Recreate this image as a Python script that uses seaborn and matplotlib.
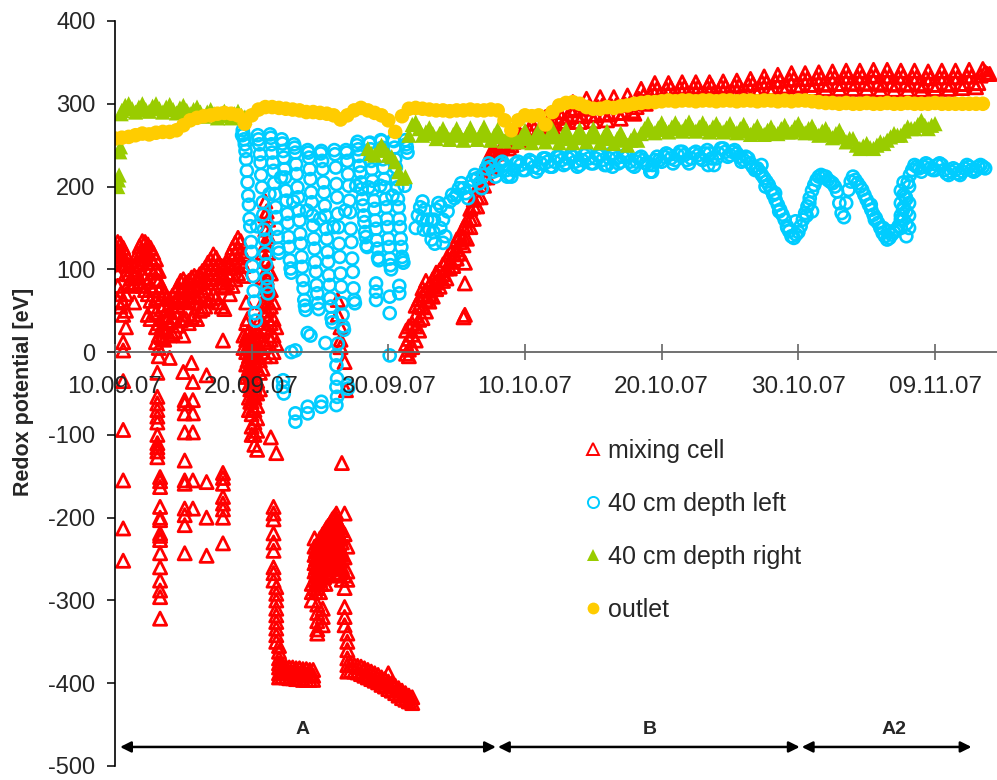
import numpy as np
import pandas as pd
import matplotlib
matplotlib.use("Agg")
import matplotlib.pyplot as plt
from matplotlib.lines import Line2D
import seaborn as sns

# ---------------- data (x = days since 10.09.07) ----------------
tick_days = [0, 10, 20, 30, 40, 50, 60]
tick_labels = ["10.09.07", "20.09.07", "30.09.07", "10.10.07",
               "20.10.07", "30.10.07", "09.11.07"]
y_ticks = [400, 300, 200, 100, 0, -100, -200, -300, -400, -500]

series_names = ["mixing cell", "40 cm depth left", "40 cm depth right", "outlet"]
series_colors = ["#FF0000", "#00CCFF", "#99CC00", "#FFCC00"]

phase_names = ["A", "B", "A2"]
phase_start = [0.37, 28.02, 50.25]
phase_end = [27.87, 50.10, 62.67]
phase_label_day = [13.7, 39.1, 57.0]

# mixing cell, days 0-9.4: upper band, three readings every 0.2 day
mixing_band_start = 0.0
mixing_band_top = [128, 133, 131, 126, 118, 105, 100, 104, 118, 128, 134, 133,
                   130, 126, 120, 112, 98, 80, 70, 66, 64, 68, 72, 80,
                   86, 88, 84, 86, 90, 92, 90, 94, 98, 102, 108, 112,
                   118, 114, 108, 104, 102, 108, 118, 126, 132, 138, 134, 118]
mixing_band_mid = [120, 124, 122, 116, 106, 94, 89, 92, 106, 117, 123, 122,
                   119, 114, 108, 100, 86, 66, 57, 52, 50, 55, 60, 68,
                   74, 76, 72, 74, 78, 80, 78, 82, 86, 90, 96, 100,
                   106, 102, 96, 92, 90, 96, 106, 114, 120, 126, 122, 104]
mixing_band_low = [112, 115, 112, 106, 95, 84, 80, 82, 96, 106, 112, 112,
                   108, 102, 96, 88, 74, 52, 44, 38, 36, 42, 48, 56,
                   62, 64, 60, 62, 66, 68, 66, 70, 74, 78, 84, 88,
                   94, 90, 84, 80, 78, 84, 94, 102, 108, 114, 110, 92]

# mixing cell, phase A scatter: (day, readings of that time slot)
mixing_A = [
    (0.2, [95, 80, 62]),
    (0.4, [70, 55]),
    (0.6, [60, 45, 12, 2, -35, -94, -155, -213, -252]),
    (0.8, [70, 50, 30]),
    (1.4, [60]),
    (1.8, [85]),
    (2.0, [95, 80]),
    (2.2, [90, 75]),
    (2.4, [85, 70, 45]),
    (2.6, [80, 62, 40]),
    (2.8, [75, 55]),
    (3.0, [65, 48, 30, 12]),
    (3.1, [-25, -54, -62, -70, -78, -85, -100, -110, -115, -120, -127]),
    (3.2, [35, 20, 5, -5]),
    (3.3, [-151, -156, -163, -187, -200, -203, -219, -222, -227, -243, -260, -276, -288, -296, -322]),
    (3.4, [30, 18]),
    (3.6, [28, 15]),
    (3.8, [25]),
    (4.0, [20, -7]),
    (4.2, [22]),
    (4.4, [25]),
    (4.6, [32]),
    (4.8, [38]),
    (5.0, [40, 20, -24]),
    (5.1, [-58, -62, -74, -97, -131, -155, -159, -189, -197, -209, -243]),
    (5.2, [40]),
    (5.4, [35]),
    (5.6, [42, -13]),
    (5.7, [-36, -58, -74, -97, -155, -189]),
    (5.8, [45]),
    (6.0, [40]),
    (6.2, [50]),
    (6.4, [52]),
    (6.6, [55]),
    (6.7, [-28, -157, -200, -246]),
    (6.8, [62]),
    (7.0, [65]),
    (7.2, [70]),
    (7.4, [66]),
    (7.6, [60]),
    (7.8, [55]),
    (7.9, [14, -146, -152, -159, -175, -183, -190, -200, -231]),
    (8.0, [52]),
    (8.4, [70]),
    (8.6, [80]),
    (8.8, [88]),
    (9.0, [95]),
    (9.4, [20, 5]),
    (9.6, [60, 35, 15, 0, -15, -30]),
    (9.7, [40, 22, 5, -10, -25]),
    (9.8, [25, 10, -5, -20, -40, -55, -70]),
    (9.9, [18, 2, -12, -28, -45, -60]),
    (10.0, [15, 0, -15, -30, -45, -60, -75, -90, -100]),
    (10.1, [12, -4, -20, -36, -52, -68]),
    (10.2, [20, 5, -10, -25, -40, -55, -70, -85, -100, -112]),
    (10.3, [16, 0, -16, -32, -48]),
    (10.4, [25, 10, -5, -20, -35, -50, -65, -80, -95, -118]),
    (10.6, [40, 20, 5, -10, -25, -45]),
    (10.8, [120, 90, 60, 35, 15, 0, -20]),
    (11.0, [182, 165, 148, 130, 112, 95, 78, 60, 45, 28, 12, -5]),
    (11.1, [170, 150, 130, 110, 90, 70, 50, 30]),
    (11.2, [160, 140, 120, 100, 80, 60, 40, 20]),
    (11.4, [95, 75, 55, 35, 15, -5, -103]),
    (11.6, [60, 40, 20, 0, -187, -195, -202, -219, -230, -240, -260, -267, -276]),
    (11.8, [30, 10, -122, -284, -292, -300, -310, -318, -326, -334, -342, -350]),
    (12.0, [-355, -362, -370, -376, -381, -388, -393]),
    (12.25, [-379, -386, -392]),
    (12.5, [-380, -387, -393]),
    (12.75, [-381, -388, -394]),
    (13.0, [-381, -388, -394]),
    (13.25, [-382, -389, -395]),
    (13.5, [-382, -389, -395]),
    (13.75, [-383, -390, -396]),
    (14.0, [-383, -390, -396]),
    (14.25, [-384, -390, -396]),
    (14.4, [-280, -290, -300]),
    (14.5, [-384, -391, -396]),
    (14.6, [-225, -235, -245, -255, -265, -275, -285]),
    (14.7, [-240, -250, -260, -270, -280, -290]),
    (14.8, [-235, -245, -255, -265, -275, -285, -305, -315, -325, -335, -340]),
    (14.9, [-230, -240, -250, -260, -270, -280]),
    (15.0, [-225, -235, -245, -255, -265, -275, -290]),
    (15.1, [-225, -235, -245, -255, -268, -280]),
    (15.2, [-220, -230, -240, -250, -260, -272, -310, -320, -330]),
    (15.3, [-218, -228, -238, -248, -260, -272]),
    (15.4, [-215, -225, -235, -245, -255, -268, -280]),
    (15.5, [-212, -222, -232, -242, -254, -266]),
    (15.6, [-210, -220, -230, -240, -250, -262, -270]),
    (15.7, [-208, -218, -228, -238, -250, -262]),
    (15.8, [-205, -215, -225, -235, -245, -255]),
    (15.9, [-202, -212, -222, -232, -244, -256]),
    (16.0, [-200, -210, -220, -230, -240, -250, -260]),
    (16.1, [-198, -208, -218, -228, -240, -252]),
    (16.2, [-195, -205, -215, -225, -235, -245, -260]),
    (16.3, [63, 45, -205, -215, -225, -238, -250, -262]),
    (16.4, [-210, -220, -232, -244, -256, -268]),
    (16.5, [30, 15, 6, -212, -225, -238, -252, -266]),
    (16.6, [-215, -230, -245, -260, -275, -134]),
    (16.8, [-195, -220, -248, -270, -285, -308, -320, -330, -12]),
    (16.9, [-46]),
    (17.0, [-235, -265, -275, -340, -350, -360, -370, -378, -386]),
    (17.25, [-377, -385]),
    (17.5, [-378, -386]),
    (17.75, [-379, -387]),
    (18.0, [-380, -389]),
    (18.25, [-382, -391]),
    (18.5, [-384, -393]),
    (18.75, [-386, -395]),
    (19.0, [-388, -397]),
    (19.25, [-390, -399]),
    (19.5, [-393, -402]),
    (19.75, [-395, -404]),
    (20.0, [-388, -398, -407]),
    (20.25, [-400, -409]),
    (20.5, [-403, -412]),
    (20.75, [-406, -415]),
    (21.0, [-409, -418]),
    (21.25, [-412, -420]),
    (21.5, [-415, -422]),
    (21.75, [-417, -424]),
]

# mixing cell, recovery at the end of phase A
mixing_rise = [
    (21.3, [-2, 10, 26]),
    (21.5, [-5, 3, 16, 31]),
    (21.75, [6, 21, 34]),
    (22.0, [14, 31, 44, 56]),
    (22.25, [26, 39, 56, 64]),
    (22.5, [41, 54, 69, 77]),
    (22.75, [49, 63, 74, 86]),
    (23.0, [61, 70, 81]),
    (23.25, [67, 79, 88]),
    (23.5, [76, 84, 96]),
    (23.75, [79, 91, 99]),
    (24.0, [86, 94, 106]),
    (24.25, [89, 101, 111]),
    (24.5, [101, 109, 121]),
    (24.75, [104, 118, 127]),
    (25.0, [113, 124, 136]),
    (25.25, [119, 133, 141]),
    (25.5, [129, 139, 151, 42]),
    (25.6, [108, 83, 45]),
    (25.75, [137, 151, 159]),
    (26.0, [151, 161, 173]),
    (26.25, [161, 176, 184]),
    (26.5, [176, 187, 199]),
    (26.75, [187, 201, 209]),
    (27.0, [201, 211, 223]),
    (27.25, [211, 225, 231]),
    (27.5, [223, 231, 241]),
    (27.75, [229, 239, 244]),
]

# mixing cell, phases B and A2: six readings per day from 28.0
mixing_B_start = 28.0
mixing_B = [
    [240, 243, 247, 252, 250, 246], [250, 254, 259, 266, 262, 256],
    [258, 262, 268, 276, 270, 264], [266, 270, 276, 284, 278, 272],
    [272, 276, 283, 290, 284, 278], [278, 284, 292, 302, 294, 286],
    [278, 285, 294, 306, 296, 287], [279, 286, 296, 308, 298, 288],
    [280, 287, 297, 308, 298, 289], [282, 289, 299, 310, 300, 291],
    [288, 296, 306, 318, 310, 300], [305, 310, 317, 325, 318, 311],
    [306, 311, 318, 325, 319, 312], [307, 312, 319, 326, 320, 313],
    [308, 313, 320, 326, 320, 313], [308, 313, 320, 326, 321, 314],
    [309, 314, 321, 327, 321, 314], [310, 315, 322, 328, 322, 315],
    [311, 316, 323, 330, 324, 317], [313, 318, 326, 333, 326, 319],
    [314, 319, 327, 335, 328, 320], [316, 321, 329, 337, 330, 322],
    [317, 322, 330, 337, 330, 323], [318, 323, 331, 338, 331, 324],
    [318, 323, 332, 339, 332, 324], [318, 324, 332, 340, 333, 325],
    [318, 324, 332, 340, 333, 325], [318, 324, 333, 341, 334, 325],
    [317, 323, 333, 341, 333, 324], [317, 323, 332, 340, 333, 324],
    [317, 323, 332, 340, 332, 324], [317, 322, 331, 339, 331, 323],
    [318, 323, 332, 340, 332, 324], [318, 323, 332, 340, 332, 324],
    [319, 324, 333, 341, 333, 325], [320, 325, 334, 342, 338, 336],
    [336],
]

# 40 cm depth left, phase A: cycles sampled every 0.05 day from a start day
left_A_cycles = [
    (9.30, [262, 268, 263, 257, 251, 243, 233, 219, 205, 189, 178, 161, 152, 133, 121, 104, 92, 74, 61, 47, 38]),
    (10.40, [152, 262, 257, 251, 239, 229, 214, 199, 181, 166, 148, 136, 119, 106, 89, 79, 71]),
    (11.30, [191, 263, 259, 251, 241, 229, 219, 204, 191, 175, 163, 149, 139, 125, 120]),
    (12.15, [211, 257, 252, 243, 235, 221, 211, 195, 183, 167, 156, 139, 127, 111, 101, 96]),
    (13.05, [182, 251, 247, 241, 227, 215, 199, 187, 171, 159, 143, 131, 115, 103, 87, 77, 63, 56, 51]),
    (14.05, [171, 244, 241, 235, 221, 209, 193, 181, 165, 153, 137, 125, 109, 97, 81, 71, 59, 52]),
    (15.00, [161, 240, 243, 231, 221, 205, 193, 177, 165, 149, 137, 121, 109, 93, 81, 65, 55, 41, 36]),
    (16.00, [151, 244, 239, 223, 203, 187, 167, 151, 131, 115, 95, 79, 59, 45, 31, 27]),
    (16.85, [171, 244, 241, 231, 215, 201, 183, 169, 149, 133, 113, 97, 77, 63, 59]),
    (17.65, [201, 250, 254, 245, 237, 225, 217, 205, 197, 185, 177, 165, 157, 145, 139, 129, 127]),
    (18.55, [199, 252, 253, 245, 231, 221, 207, 197, 183, 173, 159, 149, 135, 125, 114, 111]),
    (19.40, [201, 256, 255, 247, 233, 223, 209, 199, 185, 175, 161, 151, 137, 127, 113, 105, 100]),
    (20.30, [189, 256, 255, 247, 233, 223, 209, 199, 185, 175, 161, 151, 137, 127, 115, 111, 108]),
    (21.20, [201, 256, 251, 247, 241]),
]
left_A_extra_day = [12.9, 13.2, 14.1, 14.3, 15.4, 16.3, 19.1, 19.1, 19.1, 20.1, 20.1, 20.1,
                    20.8, 20.8, 12.3, 12.3, 12.35, 13.2, 13.2, 14.1, 14.1, 15.1, 15.1,
                    16.2, 16.2, 16.25, 16.2, 16.25, 16.2, 17.05, 17.0]
left_A_extra_val = [0, 2, 23, 20, 11, 10, 83, 73, 63, 67, 47, -4,
                    80, 71, -34, -42, -50, -74, -84, -66, -74, -60, -66,
                    -4, -16, -32, -42, -54, -64, -44, -40]

# 40 cm depth left, phases B and A2: six readings per day from 22.0
left_B_start = 22.0
left_B = [
    [150, 165, 175, 182, 172, 160], [148, 136, 160, 172, 180, 176],
    [160, 140, 170, 182, 190, 186], [190, 198, 204, 198, 192, 186],
    [200, 208, 214, 210, 204, 198], [214, 222, 228, 224, 218, 212],
    [220, 228, 230, 226, 220, 214], [212, 220, 228, 230, 226, 220],
    [220, 228, 232, 230, 224, 218], [222, 228, 234, 234, 230, 224],
    [224, 230, 236, 236, 232, 226], [228, 234, 238, 236, 230, 224],
    [226, 232, 238, 240, 234, 228], [228, 234, 238, 238, 232, 226],
    [226, 234, 240, 240, 234, 228], [230, 236, 238, 236, 230, 226],
    [224, 230, 234, 236, 232, 228], [226, 218, 226, 232, 236, 232],
    [230, 236, 240, 238, 234, 228], [232, 238, 242, 242, 238, 232],
    [228, 234, 240, 242, 238, 234], [232, 240, 244, 240, 234, 226],
    [234, 240, 246, 246, 242, 236], [238, 242, 244, 240, 236, 230],
    [232, 236, 234, 228, 224, 220], [222, 218, 214, 210, 206, 202],
    [196, 190, 184, 178, 172, 166], [160, 152, 146, 140, 138, 142],
    [145, 152, 160, 168, 176, 186], [195, 202, 208, 212, 214, 212],
    [212, 208, 206, 204, 200, 194], [180, 168, 163, 180, 196, 206],
    [212, 208, 204, 200, 196, 190], [184, 178, 172, 166, 162, 156],
    [150, 144, 140, 136, 138, 142], [145, 148, 152, 160, 172, 188],
    [205, 214, 220, 226, 224, 222], [218, 224, 228, 226, 222, 220],
    [220, 226, 228, 226, 220, 216], [214, 218, 222, 220, 216, 214],
    [218, 222, 226, 224, 220, 218], [220, 224, 226, 224, 222],
]
left_B_extra_day = [22.5, 22.6, 23.2, 23.3, 23.4, 23.8, 24.0, 28.7, 36.4, 39.3, 43.4,
                    47.3, 47.6, 48.3, 48.6, 49.2, 49.8, 50.6, 50.8, 51.0,
                    55.3, 55.6, 56.2, 56.6,
                    57.5, 57.5, 57.5, 57.5, 57.7, 57.7, 57.7, 57.7,
                    57.9, 57.9, 57.9, 57.9, 58.1, 58.1, 58.1, 58.1]
left_B_extra_val = [160, 148, 158, 145, 131, 150, 132, 212, 224, 218, 226,
                    226, 200, 192, 170, 150, 158, 165, 180, 170,
                    178, 160, 150, 146,
                    150, 165, 180, 195, 160, 175, 190, 205,
                    140, 155, 170, 185, 150, 165, 180, 200]

# 40 cm depth right
right_start_day = [0.20, 0.25, 0.30, 0.35, 0.40, 0.45]
right_start_val = [200, 208, 214, 242, 248, 288]
right_A_start = 0.5          # four readings per day
right_A = [
    [292, 298, 300, 294], [290, 296, 300, 293], [291, 297, 300, 294],
    [290, 296, 299, 293], [289, 295, 298, 292], [288, 293, 296, 290],
    [285, 290, 293, 288], [283, 288, 291, 286], [283, 288, 291, 286],
    [284],
]
right_B_start = 18.5         # four readings per day
right_B = [
    [246, 240, 238, 244], [250, 244, 238, 236], [230, 218, 210, 212],
    [262, 275, 278, 270], [262, 266, 271, 264], [258, 264, 270, 262],
    [257, 263, 270, 262], [256, 263, 271, 262], [257, 264, 272, 262],
    [256, 262, 269, 260], [255, 261, 268, 259], [254, 261, 268, 258],
    [253, 261, 269, 259], [254, 262, 270, 260], [253, 261, 269, 258],
    [253, 261, 269, 259], [254, 262, 270, 260], [253, 260, 267, 258],
    [252, 258, 265, 256], [250, 256, 262, 256], [264, 270, 276, 268],
    [265, 271, 277, 269], [266, 272, 277, 270], [267, 273, 278, 270],
    [267, 272, 277, 270], [266, 272, 276, 269], [266, 271, 276, 268],
    [265, 270, 275, 267], [263, 268, 273, 265], [263, 268, 272, 265],
    [264, 270, 274, 266], [266, 272, 276, 268], [265, 270, 273, 265],
    [262, 267, 270, 263], [259, 264, 268, 260], [254, 258, 258, 250],
    [246, 249, 252, 247], [246, 250, 254, 252], [256, 260, 264, 262],
    [262, 267, 272, 270], [270, 275, 280, 274], [270, 274, 276],
]

# outlet, two readings per day from 10.09.07
outlet_start = 0.0
outlet = [258, 259, 260, 262, 264, 263, 265, 266, 266, 268, 274, 280,
          283, 285, 286, 288, 289, 288, 286, 276, 286, 293, 296, 296,
          295, 294, 293, 292, 290, 290, 289, 288, 286, 281, 286, 292,
          295, 292, 289, 286, 280, 266, 285, 294, 295, 294, 293, 292,
          292, 291, 292, 292, 293, 292, 292, 293, 292, 280, 268, 280,
          286, 285, 286, 275, 290, 298, 301, 302, 300, 296, 294, 294,
          296, 295, 297, 298, 300, 301, 302, 302, 303, 304, 303, 304,
          304, 303, 304, 304, 303, 304, 304, 303, 304, 304, 303, 304,
          304, 303, 304, 303, 304, 304, 303, 302, 301, 301, 300, 301,
          300, 300, 301, 300, 300, 301, 300, 300, 301, 300, 300, 300,
          301, 300, 300, 300, 300, 300, 300, 300]


# ---------------- assemble tables ----------------
def from_groups(groups):
    d, v = [], []
    for day, vals in groups:
        d += [day] * len(vals)
        v += list(vals)
    return d, v


def from_cycles(cycles, step):
    d, v = [], []
    for start, vals in cycles:
        d += [start + step * i for i in range(len(vals))]
        v += list(vals)
    return d, v


def from_rows(start, rows, per_day):
    flat = [x for r in rows for x in r]
    return [start + i / per_day for i in range(len(flat))], flat


mb_d, mb_v = [], []
for arr in (mixing_band_top, mixing_band_mid, mixing_band_low):
    dd, vv = from_rows(mixing_band_start, [arr], 5)
    mb_d += dd
    mb_v += vv
md1, mv1 = from_groups(mixing_A)
md2, mv2 = from_groups(mixing_rise)
md3, mv3 = from_rows(mixing_B_start, mixing_B, 6)
mixing_df = pd.DataFrame({"day": mb_d + md1 + md2 + md3,
                          "value": mb_v + mv1 + mv2 + mv3})

ld1, lv1 = from_cycles(left_A_cycles, 0.05)
ld2, lv2 = from_rows(left_B_start, left_B, 6)
left_df = pd.DataFrame({"day": ld1 + left_A_extra_day + ld2 + left_B_extra_day,
                        "value": lv1 + left_A_extra_val + lv2 + left_B_extra_val})

rd1, rv1 = from_rows(right_A_start, right_A, 4)
rd2, rv2 = from_rows(right_B_start, right_B, 4)
right_df = pd.DataFrame({"day": right_start_day + rd1 + rd2,
                         "value": right_start_val + rv1 + rv2})

od, ov = from_rows(outlet_start, [outlet], 2)
outlet_df = pd.DataFrame({"day": od, "value": ov})

# ---------------- figure ----------------
sns.set_style("white")
plt.rcParams["font.family"] = ["Liberation Sans", "DejaVu Sans"]

fig = plt.figure(figsize=(9.97, 7.80), dpi=100)
ax = fig.add_axes([115 / 997, 14 / 780, 882 / 997, 745 / 780])

RED, CYAN, GREEN, YELLOW = series_colors

sns.scatterplot(data=mixing_df, x="day", y="value", ax=ax, marker="^", s=90,
                facecolor="none", edgecolor=RED, linewidth=2.0, legend=False)
sns.scatterplot(data=left_df, x="day", y="value", ax=ax, marker="o", s=75,
                facecolor="none", edgecolor=CYAN, linewidth=1.9, legend=False)
sns.scatterplot(data=right_df, x="day", y="value", ax=ax, marker="^", s=120,
                color=GREEN, edgecolor="none", linewidth=0, legend=False)
sns.scatterplot(data=outlet_df, x="day", y="value", ax=ax, marker="o", s=110,
                color=YELLOW, edgecolor="none", linewidth=0, legend=False)

ax.set_xlim(0, 882 / 13.667)
ax.set_ylim(-500, 400)
ax.set_xlabel("")
ax.set_ylabel("")

# axes styling
for side in ["top", "right"]:
    ax.spines[side].set_visible(False)
ax.spines["left"].set_color("black")
ax.spines["left"].set_linewidth(1.2)
ax.spines["bottom"].set_position(("data", 0))
ax.spines["bottom"].set_color("#666666")
ax.spines["bottom"].set_linewidth(1.3)
ax.set_axisbelow(False)

ax.set_yticks(y_ticks)
ax.set_yticklabels([str(t) for t in y_ticks])
ax.set_xticks(tick_days)
ax.set_xticklabels(tick_labels)
ax.tick_params(axis="y", direction="out", length=6, width=1.1, color="black",
               labelsize=17, pad=8, left=True)
ax.tick_params(axis="x", direction="inout", length=11, width=1.2, color="#666666",
               labelsize=17.5, pad=11.5, bottom=True)
ax.grid(False)

fig.text(24 / 997, 1 - 392 / 780, "Redox potential [eV]", rotation=90,
         ha="center", va="center", fontsize=15.5, fontweight="bold")

# phase arrows
arrow_y = -477
for name, x0, x1, xl in zip(phase_names, phase_start, phase_end, phase_label_day):
    ax.annotate("", xy=(x1, arrow_y), xytext=(x0, arrow_y),
                arrowprops=dict(arrowstyle="<|-|>", color="black", lw=1.8,
                                mutation_scale=16, shrinkA=0, shrinkB=0))
    ax.text(xl, -456, name, ha="center", va="center", fontsize=14,
            fontweight="bold")

# legend
handles = [
    Line2D([], [], linestyle="none", marker="^", markersize=9, markerfacecolor="none",
           markeredgecolor=RED, markeredgewidth=1.4),
    Line2D([], [], linestyle="none", marker="o", markersize=8, markerfacecolor="none",
           markeredgecolor=CYAN, markeredgewidth=1.4),
    Line2D([], [], linestyle="none", marker="^", markersize=9, markerfacecolor=GREEN,
           markeredgecolor=GREEN, markeredgewidth=0),
    Line2D([], [], linestyle="none", marker="o", markersize=8.5, markerfacecolor=YELLOW,
           markeredgecolor=YELLOW, markeredgewidth=0),
]
fig.legend(handles, series_names, loc="upper left",
           bbox_to_anchor=(585 / 997, 1 - 439 / 780), bbox_transform=fig.transFigure,
           frameon=False, borderpad=0, borderaxespad=0, handlelength=0.6,
           handletextpad=0.3, labelspacing=1.16, fontsize=18)

fig.savefig("out.png", dpi=100)
